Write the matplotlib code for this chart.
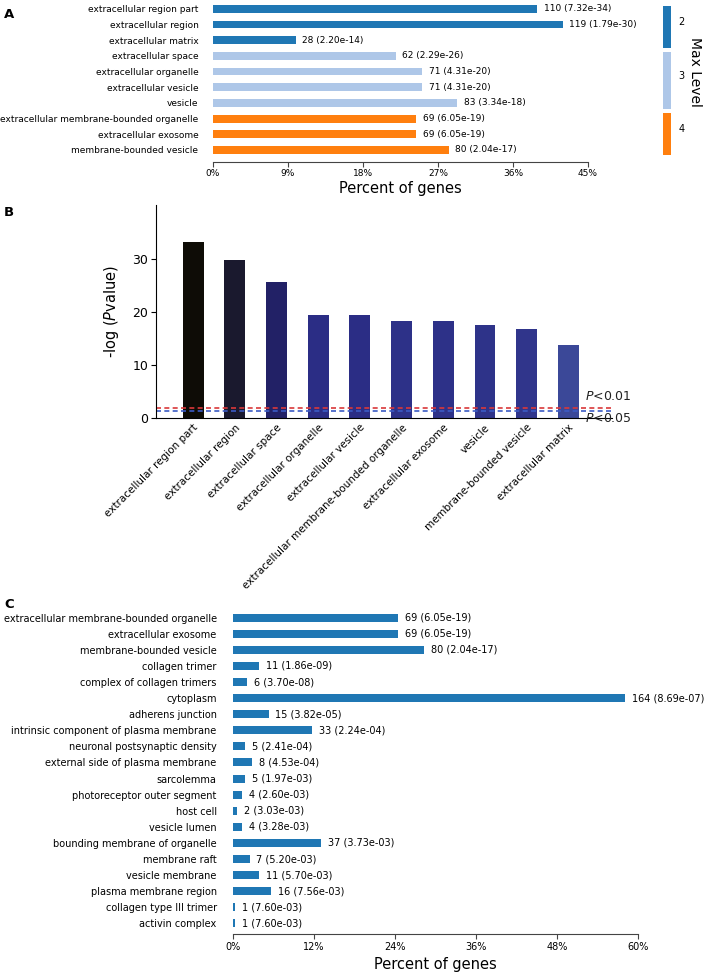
import matplotlib
matplotlib.use('Agg')
import numpy as np
import matplotlib.pyplot as plt
from matplotlib.colors import LinearSegmentedColormap

# ---------------------------------------------------------------------------
# Data
# ---------------------------------------------------------------------------

# Panel A: top GO terms, grouped by max level
a_terms = ['extracellular region part', 'extracellular region', 'extracellular matrix',
           'extracellular space', 'extracellular organelle', 'extracellular vesicle',
           'vesicle', 'extracellular membrane-bounded organelle',
           'extracellular exosome', 'membrane-bounded vesicle']
a_pct = [38.9, 42.0, 9.9, 21.9, 25.1, 25.1, 29.3, 24.4, 24.4, 28.3]
a_count = [110, 119, 28, 62, 71, 71, 83, 69, 69, 80]
a_pval = ['7.32e-34', '1.79e-30', '2.20e-14', '2.29e-26', '4.31e-20',
          '4.31e-20', '3.34e-18', '6.05e-19', '6.05e-19', '2.04e-17']
a_level = [2, 2, 2, 3, 3, 3, 3, 4, 4, 4]

# Panel B: -log10(P) per term
b_terms = ['extracellular region part', 'extracellular region', 'extracellular space',
           'extracellular organelle', 'extracellular vesicle',
           'extracellular membrane-bounded organelle', 'extracellular exosome',
           'vesicle', 'membrane-bounded vesicle', 'extracellular matrix']
b_logp = [33.1, 29.7, 25.6, 19.4, 19.4, 18.2, 18.2, 17.5, 16.7, 13.7]

# Panel C: all enriched terms
c_terms = ['extracellular membrane-bounded organelle', 'extracellular exosome',
           'membrane-bounded vesicle', 'collagen trimer', 'complex of collagen trimers',
           'cytoplasm', 'adherens junction', 'intrinsic component of plasma membrane',
           'neuronal postsynaptic density', 'external side of plasma membrane',
           'sarcolemma', 'photoreceptor outer segment', 'host cell', 'vesicle lumen',
           'bounding membrane of organelle', 'membrane raft', 'vesicle membrane',
           'plasma membrane region', 'collagen type III trimer', 'activin complex']
c_pct = [24.4, 24.4, 28.3, 3.9, 2.1, 58.0, 5.3, 11.7, 1.8, 2.8,
         1.8, 1.4, 0.7, 1.4, 13.1, 2.5, 3.9, 5.7, 0.35, 0.35]
c_count = [69, 69, 80, 11, 6, 164, 15, 33, 5, 8, 5, 4, 2, 4, 37, 7, 11, 16, 1, 1]
c_pval = ['6.05e-19', '6.05e-19', '2.04e-17', '1.86e-09', '3.70e-08', '8.69e-07',
          '3.82e-05', '2.24e-04', '2.41e-04', '4.53e-04', '1.97e-03', '2.60e-03',
          '3.03e-03', '3.28e-03', '3.73e-03', '5.20e-03', '5.70e-03', '7.56e-03',
          '7.60e-03', '7.60e-03']

level_colors = {2: '#1f77b4', 3: '#aec7e8', 4: '#ff7f0e'}

W, H = 709, 974


def px_axes(fig, left, top, right, bottom):
    """Add axes from pixel box (origin top-left)."""
    return fig.add_axes([left / W, 1 - bottom / H, (right - left) / W, (bottom - top) / H])


def hbar_panel(ax, terms, pct, counts, pvals, colors, xmax, step, ylim,
               fs=7.0, ypad=11, labelpad=4):
    y = np.arange(len(terms))
    ax.barh(y, pct, height=0.5, color=colors)
    for yi, v, n, p in zip(y, pct, counts, pvals):
        ax.text(v + xmax * 0.017, yi, f'{n} ({p})', va='center', ha='left', fontsize=fs)
    ax.set_yticks(y)
    ax.set_yticklabels(terms, fontsize=fs)
    ax.set_ylim(*ylim)
    ax.set_xlim(0, xmax)
    ticks = np.arange(0, xmax + 0.1, step)
    ax.set_xticks(ticks)
    ax.set_xticklabels([f'{t:g}%' for t in ticks], fontsize=fs)
    for s in ['top', 'right', 'left']:
        ax.spines[s].set_visible(False)
    ax.spines['bottom'].set_color('#444444')
    ax.tick_params(axis='y', length=0, pad=ypad)
    ax.tick_params(axis='x', length=3.5, color='#444444', pad=2)
    ax.set_xlabel('Percent of genes', fontsize=10.5, labelpad=labelpad)


fig = plt.figure(figsize=(W / 100, H / 100), dpi=100)

# ── Panel A ───────────────────────────────────────────────────────────────
axA = px_axes(fig, 213, 1, 588, 161.7)
hbar_panel(axA, a_terms, a_pct, a_count, a_pval,
           [level_colors[l] for l in a_level], 45, 9, (9.75, -0.5),
           fs=6.5, ypad=10.5, labelpad=2)

# Max level strip
axL = px_axes(fig, 663.3, 4, 671, 157)
levels = sorted(set(a_level))
sizes = [a_level.count(l) for l in levels]
bottoms = np.concatenate([[0], np.cumsum(sizes)[:-1]])
gap = 0.13
axL.bar(0, np.array(sizes) - 2 * gap, bottom=bottoms + gap, width=1,
        color=[level_colors[l] for l in levels])
for l, b, s in zip(levels, bottoms, sizes):
    axL.text(1.5, b + s / 2 - 0.3, str(l), va='center', ha='left', fontsize=7)
axL.set_xlim(-0.5, 0.5)
axL.set_ylim(sum(sizes), 0)
axL.axis('off')
fig.text(695 / W, 1 - 72 / H, 'Max Level', rotation=270, va='center', ha='center',
         fontsize=10)

# ── Panel B ───────────────────────────────────────────────────────────────
axB = px_axes(fig, 156, 205.5, 611.7, 418.3)
x = np.arange(len(b_terms))
cmap = LinearSegmentedColormap.from_list(
    'bk_blue', [(0, '#3b4898'), (0.15, '#30358b'), (0.3, '#2b2d85'),
                (0.6, '#22226a'), (0.82, '#1b1a30'), (1.0, '#0e0c06')])
lo, hi = min(b_logp), max(b_logp)
axB.bar(x, b_logp, width=0.5, color=[cmap((v - lo) / (hi - lo)) for v in b_logp])
axB.axhline(2, color='#d9383a', ls=(0, (3, 2)), lw=1.2)
axB.axhline(-np.log10(0.05), color='#3b5bc4', ls=(0, (3, 2)), lw=1.2)
axB.text(9.4, 4.1, '$P$<0.01', fontsize=9, va='center', ha='left', color='#222222')
axB.text(9.4, 0, '$P$<0.05', fontsize=9, va='center', ha='left', color='#222222',
         clip_on=False)
axB.set_xlim(-0.89, 10.04)
axB.set_ylim(0, 40)
axB.set_yticks([0, 10, 20, 30])
axB.tick_params(axis='y', labelsize=9, length=3.5, pad=2)
axB.set_xticks(x)
axB.set_xticklabels(b_terms, rotation=45, ha='right', rotation_mode='anchor', fontsize=7.5)
axB.tick_params(axis='x', length=0, pad=3)
axB.set_ylabel('-log ($P$value)', fontsize=10.5, labelpad=8)
for s in ['top', 'right']:
    axB.spines[s].set_visible(False)

# ── Panel C ───────────────────────────────────────────────────────────────
axC = px_axes(fig, 232.7, 608, 638.3, 934.3)
hbar_panel(axC, c_terms, c_pct, c_count, c_pval,
           ['#1f77b4'] * len(c_terms), 60, 12, (19.68, -0.6), fs=7.0, ypad=11.5)

# panel letters
for lab, yy in [('A', 14), ('B', 213), ('C', 605)]:
    fig.text(4 / W, 1 - yy / H, lab, fontsize=9.5, fontweight='bold', va='center')

fig.savefig('out.png', dpi=100)
